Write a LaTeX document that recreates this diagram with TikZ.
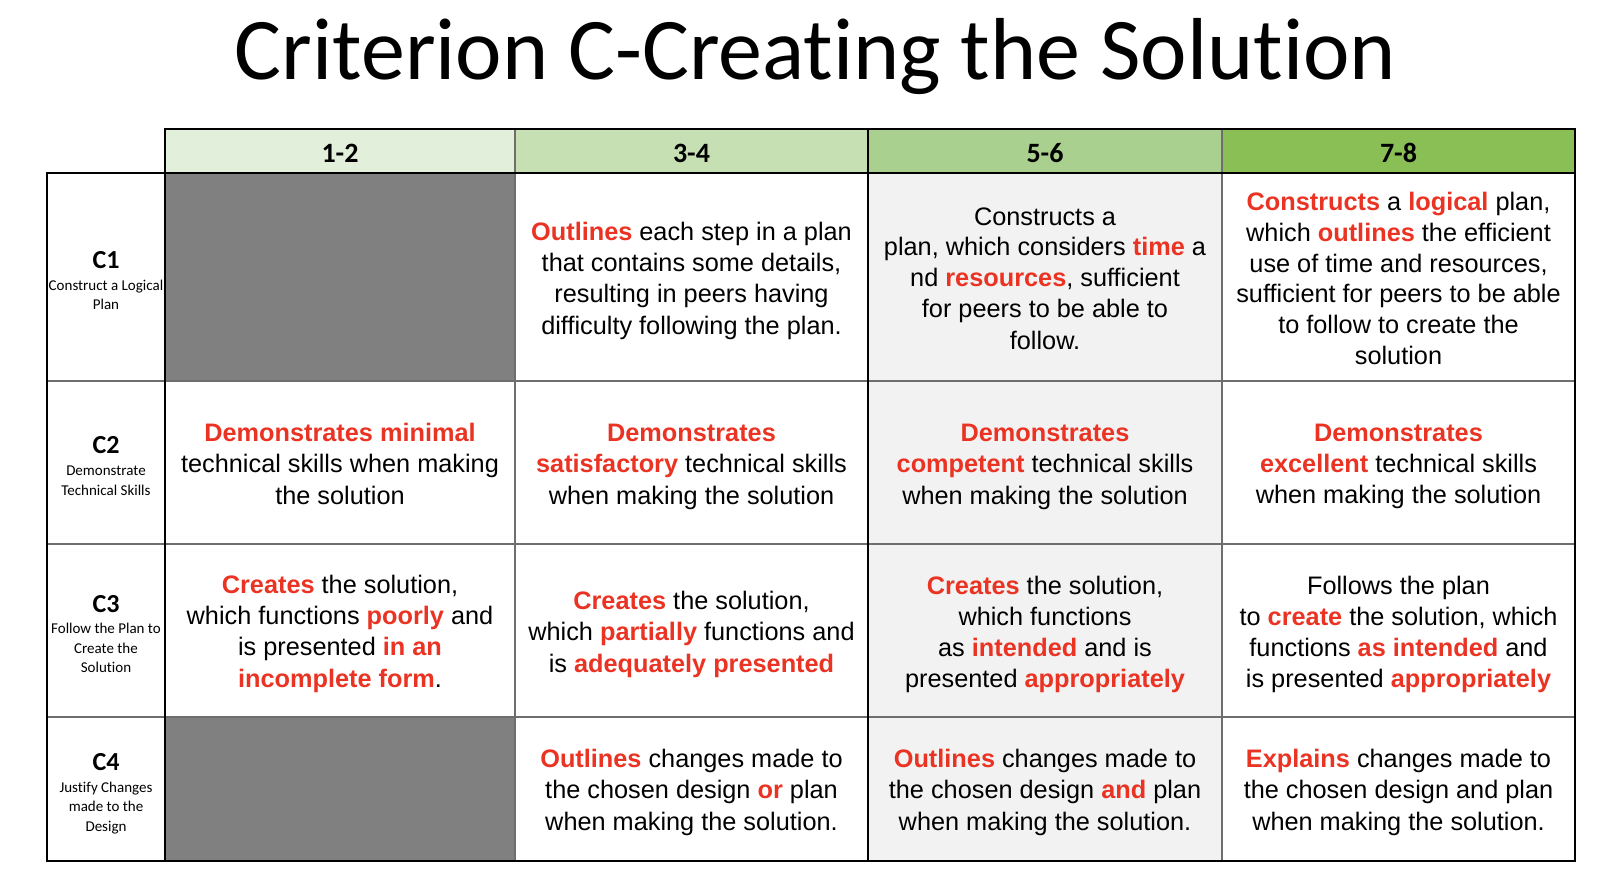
\documentclass[tikz,border=0pt]{standalone}
\usepackage{fontspec}
\setmainfont{Liberation Sans}
\newfontfamily\calib[Ligatures=NoCommon]{Carlito}
\definecolor{rubred}{RGB}{234,51,35}
\definecolor{hdA}{RGB}{226,239,218}
\definecolor{hdB}{RGB}{198,224,180}
\definecolor{hdC}{RGB}{169,208,142}
\definecolor{hdD}{RGB}{137,191,85}
\definecolor{cellgray}{RGB}{128,128,128}
\definecolor{lightcell}{RGB}{242,242,242}
\definecolor{gridgray}{RGB}{110,110,110}
\newcommand{\rb}[1]{\textcolor{rubred}{\bfseries #1}}
\newcommand{\cst}{\rule[-5pt]{0pt}{30.9pt}}
\newcommand{\lst}{\rule[-5pt]{0pt}{19.5pt}}
\tikzset{
  celltext/.style={inner sep=0pt, align=center, font=\fontsize{25.3}{30.9}\selectfont},
  hdtext/.style={inner sep=0pt, anchor=base, font=\calib\bfseries\fontsize{28}{32}\selectfont},
  crit/.style={inner sep=0pt, anchor=base, font=\calib\bfseries\fontsize{26}{30}\selectfont},
  critsub/.style={inner sep=0pt, anchor=north, align=center, font=\calib\fontsize{15}{19.5}\selectfont},
  blackline/.style={black, line width=2pt},
  greyline/.style={gridgray, line width=1.3pt}
}
\begin{document}
\begin{tikzpicture}[x=1pt,y=-1pt]
\useasboundingbox (0,0) rectangle (1614,896);
% title
\node[inner sep=0pt, anchor=base, font=\calib\fontsize{88}{100}\selectfont] (title) at (815.5,79.3) {Criterion C-Creating the Solution};
% header fills
\fill[hdA] (165,129) rectangle (515,173);
\fill[hdB] (515,129) rectangle (868,173);
\fill[hdC] (868,129) rectangle (1222,173);
\fill[hdD] (1222,129) rectangle (1575,173);
% body fills
\fill[cellgray] (165,173) rectangle (515,381);
\fill[cellgray] (165,717) rectangle (515,861);
\fill[lightcell] (868,173) rectangle (1222,861);
% grid lines
\draw[greyline] (515,129) -- (515,861);
\draw[greyline] (1222,129) -- (1222,861);
\draw[greyline] (47,381) -- (1575,381);
\draw[greyline] (47,544) -- (1575,544);
\draw[greyline] (47,717) -- (1575,717);
\draw[blackline] (868,129) -- (868,861);
\draw[blackline] (165,129) -- (165,861);
\draw[blackline] (47,173) -- (1575,173);
\draw[blackline, line cap=rect] (165,129) -- (1575,129) -- (1575,861) -- (47,861) -- (47,173);
% header text
\node[hdtext] (h1) at (340,163) {1-2};
\node[hdtext] (h2) at (691.5,163) {3-4};
\node[hdtext] (h3) at (1045,163) {5-6};
\node[hdtext] (h4) at (1398.5,163) {7-8};
% criterion labels
\node[crit] (c1) at (106,268.3) {C1};
\node[critsub] (c1s) at (106,275.5) {\lst Construct a Logical\\Plan\lst};
\node[crit] (c2) at (106,453.8) {C2};
\node[critsub] (c2s) at (106,461) {\lst Demonstrate\\Technical Skills\lst};
\node[crit] (c3) at (106,612.05) {C3};
\node[critsub] (c3s) at (106,619.25) {\lst Follow the Plan to\\Create the\\Solution\lst};
\node[crit] (c4) at (106,770.55) {C4};
\node[critsub] (c4s) at (106,777.75) {\lst Justify Changes\\made to the\\Design\lst};
% row C1
\node[celltext] (r1b) at (691.5,277) {\cst\rb{Outlines} each step in a plan\\that contains some details,\\resulting in peers having\\difficulty following the plan.\cst};
\node[celltext] (r1c) at (1045,277) {\cst Constructs a\\plan, which considers \rb{time} a\\nd \rb{resources}, sufficient\\for peers to be able to\\follow.\cst};
\node[celltext] (r1d) at (1398.5,277) {\cst\rb{Constructs} a \rb{logical} plan,\\which \rb{outlines} the efficient\\use of time and resources,\\sufficient for peers to be able\\to follow to create the\\solution\cst};
% row C2
\node[celltext] (r2a) at (340,462.5) {\cst\rb{Demonstrates minimal}\\technical skills when making\\the solution\cst};
\node[celltext] (r2b) at (691.5,462.5) {\cst\rb{Demonstrates}\\\rb{satisfactory} technical skills\\when making the solution\cst};
\node[celltext] (r2c) at (1045,462.5) {\cst\rb{Demonstrates}\\\rb{competent} technical skills\\when making the solution\cst};
\node[celltext] (r2d) at (1398.5,462.5) {\cst\rb{Demonstrates}\\\rb{excellent} technical skills\\when making the solution\cst};
% row C3
\node[celltext] (r3a) at (340,630.5) {\cst\rb{Creates} the solution,\\which functions \rb{poorly} and\\is presented \rb{in an}\\\rb{incomplete form}.\cst};
\node[celltext] (r3b) at (691.5,630.5) {\cst\rb{Creates} the solution,\\which \rb{partially} functions and\\is \rb{adequately presented}\cst};
\node[celltext] (r3c) at (1045,630.5) {\cst\rb{Creates} the solution,\\which functions\\as \rb{intended} and is\\presented \rb{appropriately}\cst};
\node[celltext] (r3d) at (1398.5,630.5) {\cst Follows the plan\\to \rb{create} the solution, which\\functions \rb{as intended} and\\is presented \rb{appropriately}\cst};
% row C4
\node[celltext] (r4b) at (691.5,789) {\cst\rb{Outlines} changes made to\\the chosen design \rb{or} plan\\when making the solution.\cst};
\node[celltext] (r4c) at (1045,789) {\cst\rb{Outlines} changes made to\\the chosen design \rb{and} plan\\when making the solution.\cst};
\node[celltext] (r4d) at (1398.5,789) {\cst\rb{Explains} changes made to\\the chosen design and plan\\when making the solution.\cst};
\end{tikzpicture}
\end{document}
